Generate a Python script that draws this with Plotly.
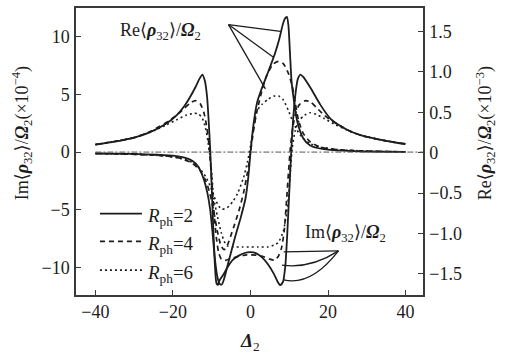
import plotly.graph_objects as go

# ---------------- data ----------------
r_ph = [2, 4, 6]

# Im<rho32>/Omega2 (x 1e-4), left axis
im2_x = [-40,-35,-30,-26,-22,-19,-17,-15.5,-14.2,-13.2,-12.4,-11.8,-11.2,-10.8,-10.4,-10.0,-9.6,-9.2,-8.8,-8.4,-8.0,-7.0,-6.0,-4.5,-3.0,-1.5,0,1.5,3.0,4.5,6.0,7.0,7.7,8.4,9.0,9.5,10.0,10.5,11.0,11.6,12.2,12.9,13.6,15.4,18,20.6,23,25.7,29,33,37,40]
im2_y = [0.65,0.9,1.25,1.7,2.4,3.2,4.0,4.8,5.6,6.3,6.7,6.2,4.8,2.8,0.3,-3.0,-6.5,-9.6,-11.3,-11.5,-11.1,-10.6,-10.0,-9.3,-8.95,-8.72,-8.65,-8.75,-9.1,-9.7,-10.5,-11.2,-11.5,-11.2,-9.8,-7.0,-3.5,0.0,2.8,5.0,6.3,6.7,6.5,5.6,4.1,2.9,2.3,1.8,1.4,1.1,0.85,0.7]

im4_x = [-40,-30,-25.7,-22,-19,-17,-15.5,-14.2,-13,-12,-11.2,-10.6,-10.0,-9.4,-8.8,-8.2,-7.5,-6.5,-5,-3,-1.5,0,1.5,3,5,6.2,7.2,8.0,8.7,9.3,9.8,10.3,10.9,11.6,12.6,14.2,15.6,17,19,21,23,25.7,29,33,37,40]
im4_y = [0.65,1.25,1.8,2.5,3.2,3.8,4.25,4.45,4.2,3.4,2.0,0.3,-2.4,-5.2,-7.4,-8.7,-9.25,-9.35,-9.2,-9.0,-8.9,-8.88,-8.9,-9.0,-9.25,-9.35,-9.0,-8.3,-6.8,-4.2,-1.8,0.4,2.1,3.3,4.1,4.45,4.3,3.85,3.2,2.7,2.3,1.8,1.4,1.1,0.85,0.7]

im6_x = [-40,-30,-25.7,-22,-19,-16.5,-14.5,-13.4,-12.4,-11.6,-11.0,-10.5,-10.0,-9.5,-8.5,-7.5,-6.8,-6.0,-4.5,-2,0,2,4.5,6.0,7.2,8.5,9.3,9.8,10.3,10.8,11.5,12.5,14,15.4,17,19,22,25.7,29,33,37,40]
im6_y = [0.65,1.25,1.75,2.3,2.8,3.2,3.35,3.3,2.9,2.1,1.0,-0.2,-1.8,-3.9,-5.6,-7.0,-7.7,-8.1,-8.2,-8.2,-8.2,-8.2,-8.2,-8.05,-7.8,-6.8,-5.3,-3.9,-1.6,0.4,1.8,2.7,3.2,3.4,3.25,2.9,2.35,1.8,1.4,1.1,0.85,0.7]

# Re<rho32>/Omega2 (x 1e-3), right axis
re2_x = [-40,-30,-24,-20,-17,-15,-13.5,-12.1,-11.1,-10.4,-9.8,-9.2,-8.6,-8.0,-7.4,-6.8,-5.5,-4.0,-2.5,-1.3,-0.6,0,0.7,1.7,2.8,4.0,5.2,6.4,7.5,8.3,8.9,9.4,9.8,10.2,10.6,11.1,12.1,13.6,15.4,18.8,24,30,40]
re2_y = [-0.01,-0.015,-0.025,-0.035,-0.06,-0.1,-0.17,-0.32,-0.5,-0.7,-0.98,-1.3,-1.52,-1.62,-1.63,-1.56,-1.32,-1.05,-0.8,-0.57,-0.32,0.0,0.32,0.62,0.78,0.93,1.08,1.24,1.42,1.58,1.66,1.68,1.57,1.22,0.88,0.68,0.38,0.18,0.09,0.045,0.025,0.015,0.01]

re4_x = [-40,-30,-22,-18,-15,-13,-11.5,-10.5,-9.5,-8.5,-7.6,-6.8,-6.0,-4.4,-3.0,-1.8,-0.8,0,0.8,1.6,2.6,3.9,5.7,7.2,8.5,9.8,10.8,11.6,12.4,13.6,15.5,18,22,30,40]
re4_y = [-0.01,-0.02,-0.04,-0.07,-0.13,-0.22,-0.35,-0.5,-0.72,-0.98,-1.15,-1.2,-1.15,-0.93,-0.72,-0.5,-0.25,0.0,0.28,0.5,0.7,0.92,1.09,1.13,1.1,0.98,0.82,0.6,0.4,0.24,0.13,0.07,0.04,0.02,0.01]

re6_x = [-40,-30,-22,-18,-15,-13,-11.5,-10.3,-9.3,-8.2,-7.3,-6.0,-4.5,-3.3,-1.8,-0.8,0,0.8,1.7,3.0,4.5,6.0,7.3,8.5,9.8,10.8,12.0,13.5,15.5,18,22,30,40]
re6_y = [-0.01,-0.02,-0.04,-0.07,-0.12,-0.2,-0.3,-0.42,-0.55,-0.66,-0.7,-0.68,-0.6,-0.5,-0.31,-0.12,0.08,0.3,0.52,0.6,0.66,0.7,0.7,0.65,0.52,0.4,0.28,0.18,0.11,0.07,0.04,0.02,0.01]

x_ticks = [-40, -20, 0, 20, 40]
y_ticks = [-10, -5, 0, 5, 10]
y2_ticks = [-1.5, -1.0, -0.5, 0, 0.5, 1.0, 1.5]
y2_ticktext = ["\u22121.5", "\u22121.0", "\u22120.5", "0", "0.5", "1.0", "1.5"]

# ---------------- styling ----------------
INK = "#1c1c1c"
SERIF = "Liberation Serif, DejaVu Serif, serif"
dashes = {2: "solid", 4: "5px,4px", 6: "2px,3px"}
widths = {2: 1.8, 4: 1.7, 6: 1.6}
im_data = {2: (im2_x, im2_y), 4: (im4_x, im4_y), 6: (im6_x, im6_y)}
re_data = {2: (re2_x, re2_y), 4: (re4_x, re4_y), 6: (re6_x, re6_y)}

fig = go.Figure()
for r in r_ph:
    xs, ys = im_data[r]
    fig.add_trace(go.Scatter(x=xs, y=ys, mode="lines", yaxis="y",
                             line=dict(color=INK, width=widths[r], dash=dashes[r],
                                       shape="spline", smoothing=0.6),
                             showlegend=False, hoverinfo="skip"))
    xs, ys = re_data[r]
    fig.add_trace(go.Scatter(x=xs, y=ys, mode="lines", yaxis="y2",
                             line=dict(color=INK, width=widths[r], dash=dashes[r],
                                       shape="spline", smoothing=0.6),
                             showlegend=False, hoverinfo="skip"))

# zero reference (dash-dot)
fig.add_shape(type="line", xref="x", yref="y", x0=-40, x1=44.5, y0=0, y1=0,
              line=dict(color="#555", width=1, dash="6px,2px,2px,2px"))

# Re annotation pointer lines (to the Re peaks)
re_origin = (-5.66, 1.585)
re_targets = [(7.72, 1.50), (5.92, 1.18), (3.86, 0.79)]
for tx, ty in re_targets:
    fig.add_shape(type="line", xref="x", yref="y2", x0=re_origin[0], y0=re_origin[1],
                  x1=tx, y1=ty, line=dict(color=INK, width=1.3))

# Im annotation pointer lines
im_origin = (22.7, -8.54)
fig.add_shape(type="line", xref="x", yref="y", x0=8.58, y0=-8.63, x1=im_origin[0], y1=im_origin[1],
              line=dict(color=INK, width=1.3))
fig.add_shape(type="path", xref="x", yref="y",
              path=f"M 8.15,-9.77 Q 15.44,-10.11 {im_origin[0]},{im_origin[1]}",
              line=dict(color=INK, width=1.3))
fig.add_shape(type="path", xref="x", yref="y",
              path=f"M 8.58,-11.05 Q 15.57,-11.61 {im_origin[0]},{im_origin[1]}",
              line=dict(color=INK, width=1.3))

# text annotations
RHO = "<b><i>\u03c1</i></b><sub>32</sub>"
OMG = "<b><i>\u03a9</i></b><sub>2</sub>"
fig.add_annotation(x=-23.2, y=10.4, xref="x", yref="y", showarrow=False,
                   text=f"Re\u27e8{RHO}\u27e9/{OMG}", font=dict(family=SERIF, size=18, color=INK))
fig.add_annotation(x=24.5, y=-7.0, xref="x", yref="y", showarrow=False,
                   text=f"Im\u27e8{RHO}\u27e9/{OMG}", font=dict(family=SERIF, size=18, color=INK))

# axis titles
fig.add_annotation(x=-0.156, y=0.563, xref="paper", yref="paper", showarrow=False, textangle=-90,
                   xanchor="center", yanchor="middle",
                   text=f"Im\u27e8{RHO}\u27e9/{OMG}(\u00d710<sup>\u22124</sup>)",
                   font=dict(family=SERIF, size=18, color=INK))
fig.add_annotation(x=1.18, y=0.565, xref="paper", yref="paper", showarrow=False, textangle=-90,
                   xanchor="center", yanchor="middle",
                   text=f"Re\u27e8{RHO}\u27e9/{OMG}(\u00d710<sup>\u22123</sup>)",
                   font=dict(family=SERIF, size=18, color=INK))
fig.add_annotation(x=0, y=-0.163, xref="x", yref="paper", showarrow=False,
                   xanchor="center", yanchor="middle",
                   text="<b><i>\u0394</i></b><sub>2</sub>", font=dict(family=SERIF, size=19, color=INK))

# custom legend (inside bottom-left)
leg_y = [0.2837, 0.1869, 0.0865]
for r, ly in zip(r_ph, leg_y):
    fig.add_shape(type="line", xref="paper", yref="paper", x0=0.069, x1=0.190, y0=ly, y1=ly,
                  line=dict(color=INK, width=widths[r], dash=dashes[r]))
    fig.add_annotation(x=0.2, y=ly - 0.012, xref="paper", yref="paper", showarrow=False,
                       xanchor="left", yanchor="middle",
                       text=f"<i>R</i><sub>ph</sub>={r}", font=dict(family=SERIF, size=19, color=INK))

axis_common = dict(showgrid=False, zeroline=False, showline=True, linecolor="#3a3a3a", linewidth=1.5,
                   ticks="inside", ticklen=5, tickwidth=1.3, tickcolor="#3a3a3a",
                   tickfont=dict(family=SERIF, size=18, color=INK))

fig.update_layout(
    width=505, height=356,
    margin=dict(l=76, r=82, t=6, b=61),
    paper_bgcolor="white", plot_bgcolor="white",
    showlegend=False,
    xaxis=dict(range=[-45, 44.5], tickvals=x_ticks, mirror=True, ticklabelstandoff=0, **axis_common),
    yaxis=dict(range=[-12.35, 12.45], tickvals=y_ticks, ticklabelstandoff=1, **axis_common),
    yaxis2=dict(range=[-1.76, 1.79], tickvals=y2_ticks, ticktext=y2_ticktext, overlaying="y",
                side="right", ticklabelstandoff=1, **axis_common),
)

fig.write_html("out.html", config={"displayModeBar": False},
               post_script="document.body.style.margin='0';document.body.style.overflow='hidden';")
